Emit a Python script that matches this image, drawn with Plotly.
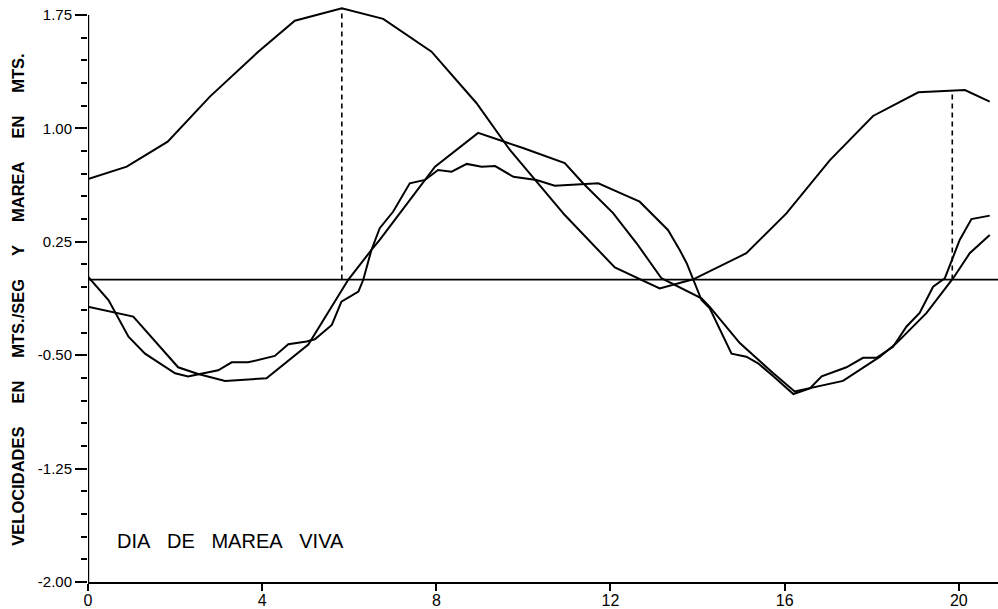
import plotly.graph_objects as go

# Tide (marea) in metres, hours
tide_x = [0, 0.89, 1.83, 2.80, 3.91, 4.75, 5.83, 6.78, 7.89, 8.92, 9.69, 10.95,
          12.10, 13.13, 13.90, 15.12, 16.04, 17.04, 18.03, 19.07, 20.14, 20.71]
tide_y = [0.665, 0.747, 0.912, 1.21, 1.507, 1.712, 1.794, 1.724, 1.507, 1.168, 0.857, 0.427,
          0.08, -0.058, 0.002, 0.174, 0.438, 0.79, 1.082, 1.239, 1.254, 1.177]

# Velocity, smooth curve
vel_s_x = [0, 1.04, 2.07, 2.53, 3.15, 4.10, 5.06, 5.98, 6.51, 6.70, 7.97, 8.96, 9.99,
           10.95, 11.37, 12.06, 12.60, 13.17, 14.09, 14.28, 14.97, 15.74, 16.23, 17.34,
           18.19, 18.57, 19.26, 19.56, 19.87, 20.25, 20.71]
vel_s_y = [-0.18, -0.245, -0.58, -0.624, -0.67, -0.653, -0.43, 0.0, 0.196, 0.262, 0.747, 0.97, 0.87,
           0.77, 0.637, 0.44, 0.24, 0.009, -0.124, -0.18, -0.42, -0.62, -0.74, -0.67,
           -0.51, -0.42, -0.22, -0.11, 0.009, 0.174, 0.295]

# Velocity, jagged curve
vel_j_x = [0, 0.47, 0.93, 1.31, 2.00, 2.30, 2.57, 2.99, 3.30, 3.68, 4.29, 4.60, 5.02, 5.21,
           5.60, 5.82, 6.21, 6.32, 6.51, 6.70, 7.01, 7.39, 7.74, 8.04, 8.35, 8.70, 9.04, 9.35,
           9.77, 10.30, 10.72, 11.37, 11.72, 12.06, 12.67, 13.32, 13.59, 13.75, 13.90, 14.09,
           14.28, 14.78, 15.12, 15.39, 15.74, 16.20, 16.58, 16.85, 17.42, 17.80, 18.11, 18.49,
           18.80, 19.10, 19.41, 19.68, 19.87, 20.02, 20.29, 20.71]
vel_j_y = [0.019, -0.135, -0.378, -0.49, -0.62, -0.64, -0.624, -0.60, -0.547, -0.547, -0.505,
           -0.428, -0.41, -0.395, -0.30, -0.146, -0.08, -0.003, 0.196, 0.34, 0.45, 0.637, 0.659,
           0.725, 0.714, 0.765, 0.747, 0.751, 0.68, 0.659, 0.621, 0.63, 0.637, 0.593, 0.515,
           0.328, 0.196, 0.108, -0.003, -0.135, -0.19, -0.49, -0.51, -0.554, -0.64, -0.757,
           -0.72, -0.64, -0.58, -0.517, -0.517, -0.444, -0.31, -0.22, -0.047, 0.009, 0.15,
           0.262, 0.40, 0.423]

# High-water markers
hw_x = [5.83, 19.85]
hw_y = [1.794, 1.254]

x_ticks = [0, 4, 8, 12, 16, 20]
y_ticks = [-2.00, -1.25, -0.50, 0.25, 1.00, 1.75]
y_ticklabels = ["-2.00", "-1.25", "-0.50", "0.25", "1.00", "1.75"]

FONT = "Liberation Sans"
line = dict(color="black", width=2)

fig = go.Figure()
fig.add_trace(go.Scatter(x=tide_x, y=tide_y, mode="lines", line=line, hoverinfo="skip"))
fig.add_trace(go.Scatter(x=vel_s_x, y=vel_s_y, mode="lines", line=line, hoverinfo="skip"))
fig.add_trace(go.Scatter(x=vel_j_x, y=vel_j_y, mode="lines", line=line, hoverinfo="skip"))
for hx, hy in zip(hw_x, hw_y):
    fig.add_trace(go.Scatter(x=[hx, hx], y=[0, hy], mode="lines",
                             line=dict(color="black", width=1.6, dash="5px,4px"),
                             hoverinfo="skip"))

# zero line
fig.add_shape(type="line", xref="paper", yref="y", x0=0, x1=1, y0=0, y1=0,
              line=dict(color="black", width=1.6))
# y axis line from -2.00 to 1.75
fig.add_shape(type="line", xref="x", yref="y", x0=0, x1=0, y0=-2.0, y1=1.75,
              line=dict(color="black", width=2.4))

nb2 = "&nbsp;" * 3
fig.add_annotation(text=nb2.join(["DIA", "DE", "MAREA", "VIVA"]), xref="x", yref="y",
                   x=0.62, y=-1.73, xanchor="left", yanchor="middle", showarrow=False,
                   font=dict(family=FONT, size=20, color="black"))

nb = "&nbsp;" * 5
ytitle = nb.join(["VELOCIDADES", "EN", "MTS./SEG", "Y", "MAREA", "EN", "MTS."])
fig.add_annotation(text="<b>" + ytitle + "</b>", xref="paper", yref="paper",
                   x=-0.077, y=0.485, xanchor="center", yanchor="middle", textangle=-90,
                   showarrow=False, font=dict(family=FONT, size=16.5, color="black"))

fig.update_layout(
    width=998, height=609,
    margin=dict(l=88, r=0, t=0, b=27, autoexpand=False),
    paper_bgcolor="white", plot_bgcolor="white",
    showlegend=False,
    xaxis=dict(range=[0, 20.9], tickmode="array", tickvals=x_ticks,
               ticktext=[str(v) for v in x_ticks], automargin=False,
               showgrid=False, zeroline=False, showline=True, linecolor="black", linewidth=2.4,
               ticks="outside", ticklen=7, tickwidth=2, tickcolor="black",
               ticklabelstandoff=-4,
               tickfont=dict(family=FONT, size=16, color="black")),
    yaxis=dict(range=[-2.0, 1.849], tickmode="array", tickvals=y_ticks, ticktext=y_ticklabels,
               showgrid=False, zeroline=False, showline=False, automargin=False,
               ticks="outside", ticklen=12, tickwidth=2, tickcolor="black",
               tickfont=dict(family=FONT, size=15, color="black"),
               minor=dict(dtick=0.15, tick0=-2.0, ticks="outside", ticklen=6,
                          tickwidth=2, tickcolor="black", showgrid=False)),
)

fig.write_html("out.html", config={"displayModeBar": False},
               post_script="document.body.style.margin='0';document.body.style.overflow='hidden';")
